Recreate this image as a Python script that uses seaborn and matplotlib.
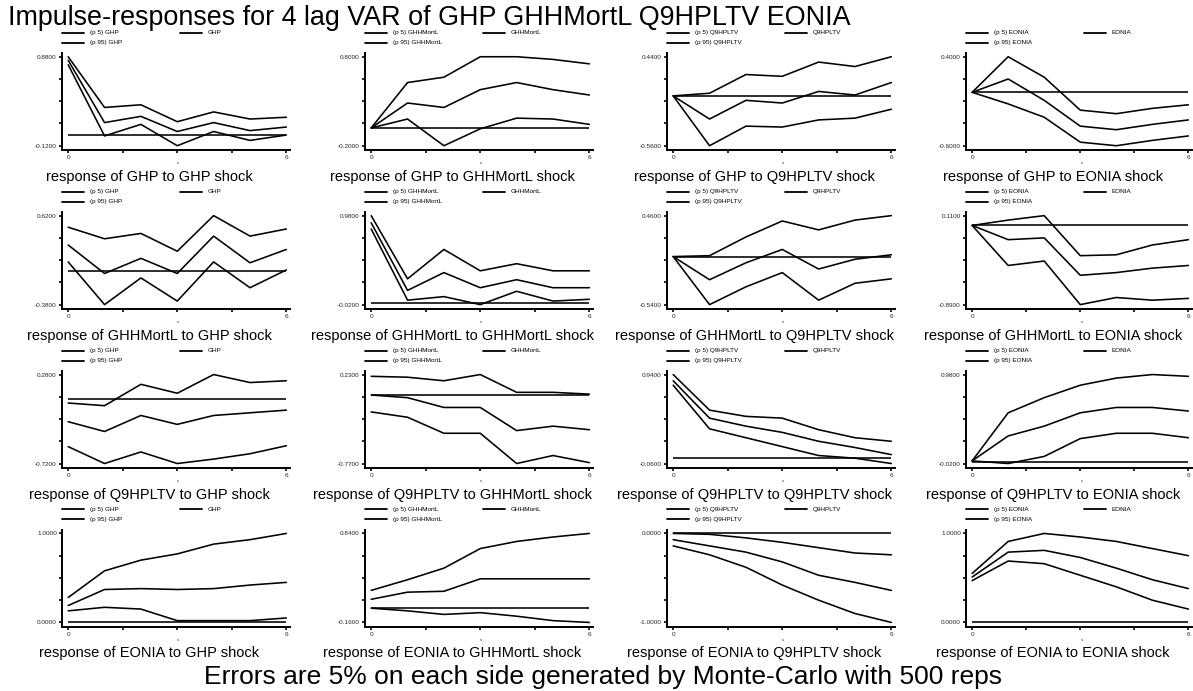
import numpy as np
import pandas as pd
import matplotlib
matplotlib.use("Agg")
import matplotlib.pyplot as plt
from matplotlib.lines import Line2D
import seaborn as sns

# ---------------- data ----------------
variables = ["GHP", "GHHMortL", "Q9HPLTV", "EONIA"]
steps = [0, 1, 2, 3, 4, 5, 6]
xtick_pos = [0, 1.5, 3, 4.5, 6]
xtick_labels = ["0", "", "", "", "6"]

# response of GHP
ghp_to_ghp_p95 = [0.88, 0.31, 0.34, 0.15, 0.26, 0.18, 0.20]
ghp_to_ghp_irf = [0.84, 0.14, 0.21, 0.04, 0.14, 0.05, 0.09]
ghp_to_ghp_p5 = [0.79, -0.01, 0.12, -0.12, 0.04, -0.06, 0.00]
ghp_to_ghhm_p95 = [0.00, 0.51, 0.57, 0.80, 0.80, 0.77, 0.72]
ghp_to_ghhm_irf = [0.00, 0.28, 0.23, 0.43, 0.51, 0.43, 0.37]
ghp_to_ghhm_p5 = [0.00, 0.10, -0.20, -0.01, 0.11, 0.10, 0.04]
ghp_to_q9_p95 = [0.00, 0.03, 0.24, 0.22, 0.38, 0.33, 0.44]
ghp_to_q9_irf = [0.00, -0.26, -0.05, -0.08, 0.05, 0.01, 0.15]
ghp_to_q9_p5 = [0.00, -0.56, -0.34, -0.35, -0.27, -0.25, -0.15]
ghp_to_eonia_p95 = [0.00, 0.40, 0.17, -0.20, -0.24, -0.18, -0.14]
ghp_to_eonia_irf = [0.00, 0.15, -0.09, -0.38, -0.42, -0.36, -0.31]
ghp_to_eonia_p5 = [0.00, -0.13, -0.28, -0.56, -0.60, -0.54, -0.49]

# response of GHHMortL
ghhm_to_ghp_p95 = [0.49, 0.36, 0.42, 0.22, 0.62, 0.39, 0.47]
ghhm_to_ghp_irf = [0.29, -0.03, 0.14, -0.03, 0.39, 0.09, 0.24]
ghhm_to_ghp_p5 = [0.10, -0.38, -0.08, -0.34, 0.10, -0.19, 0.01]
ghhm_to_ghhm_p95 = [0.98, 0.27, 0.60, 0.36, 0.44, 0.36, 0.36]
ghhm_to_ghhm_irf = [0.90, 0.14, 0.34, 0.17, 0.26, 0.17, 0.17]
ghhm_to_ghhm_p5 = [0.83, 0.03, 0.07, -0.02, 0.13, 0.02, 0.04]
ghhm_to_q9_p95 = [0.00, 0.01, 0.22, 0.40, 0.30, 0.41, 0.46]
ghhm_to_q9_irf = [0.00, -0.26, -0.07, 0.08, -0.14, -0.03, 0.02]
ghhm_to_q9_p5 = [0.00, -0.54, -0.34, -0.18, -0.49, -0.30, -0.25]
ghhm_to_eonia_p95 = [0.00, 0.06, 0.11, -0.34, -0.33, -0.22, -0.16]
ghhm_to_eonia_irf = [0.00, -0.16, -0.14, -0.56, -0.53, -0.48, -0.45]
ghhm_to_eonia_p5 = [0.00, -0.45, -0.40, -0.89, -0.81, -0.84, -0.82]

# response of Q9HPLTV
q9_to_ghp_p95 = [-0.04, -0.07, 0.17, 0.07, 0.28, 0.19, 0.21]
q9_to_ghp_irf = [-0.25, -0.36, -0.18, -0.28, -0.18, -0.15, -0.12]
q9_to_ghp_p5 = [-0.53, -0.72, -0.59, -0.72, -0.67, -0.61, -0.52]
q9_to_ghhm_p95 = [0.21, 0.20, 0.16, 0.23, 0.03, 0.03, 0.01]
q9_to_ghhm_irf = [0.00, -0.03, -0.14, -0.14, -0.40, -0.35, -0.39]
q9_to_ghhm_p5 = [-0.19, -0.25, -0.43, -0.43, -0.77, -0.68, -0.76]
q9_to_q9_p95 = [0.94, 0.54, 0.47, 0.45, 0.32, 0.23, 0.19]
q9_to_q9_irf = [0.87, 0.45, 0.36, 0.29, 0.19, 0.12, 0.04]
q9_to_q9_p5 = [0.82, 0.33, 0.23, 0.13, 0.03, 0.00, -0.06]
q9_to_eonia_p95 = [0.01, 0.55, 0.72, 0.86, 0.94, 0.98, 0.96]
q9_to_eonia_irf = [0.01, 0.29, 0.40, 0.55, 0.61, 0.61, 0.57]
q9_to_eonia_p5 = [0.01, -0.02, 0.06, 0.26, 0.32, 0.32, 0.27]

# response of EONIA
eonia_to_ghp_p95 = [0.28, 0.58, 0.70, 0.77, 0.88, 0.93, 1.00]
eonia_to_ghp_irf = [0.19, 0.37, 0.38, 0.37, 0.38, 0.42, 0.45]
eonia_to_ghp_p5 = [0.13, 0.17, 0.15, 0.02, 0.02, 0.02, 0.05]
eonia_to_ghhm_p95 = [0.20, 0.32, 0.45, 0.67, 0.75, 0.80, 0.84]
eonia_to_ghhm_irf = [0.10, 0.18, 0.19, 0.33, 0.33, 0.33, 0.33]
eonia_to_ghhm_p5 = [0.00, -0.03, -0.07, -0.05, -0.09, -0.14, -0.16]
eonia_to_q9_p95 = [0.00, -0.01, -0.05, -0.10, -0.16, -0.22, -0.24]
eonia_to_q9_irf = [-0.07, -0.14, -0.21, -0.32, -0.47, -0.55, -0.64]
eonia_to_q9_p5 = [-0.14, -0.24, -0.38, -0.58, -0.75, -0.90, -1.00]
eonia_to_eonia_p95 = [0.55, 0.91, 1.00, 0.96, 0.91, 0.83, 0.75]
eonia_to_eonia_irf = [0.51, 0.79, 0.81, 0.73, 0.61, 0.48, 0.38]
eonia_to_eonia_p5 = [0.47, 0.69, 0.66, 0.53, 0.40, 0.25, 0.15]

panels = [
    [(ghp_to_ghp_p5, ghp_to_ghp_irf, ghp_to_ghp_p95),
     (ghp_to_ghhm_p5, ghp_to_ghhm_irf, ghp_to_ghhm_p95),
     (ghp_to_q9_p5, ghp_to_q9_irf, ghp_to_q9_p95),
     (ghp_to_eonia_p5, ghp_to_eonia_irf, ghp_to_eonia_p95)],
    [(ghhm_to_ghp_p5, ghhm_to_ghp_irf, ghhm_to_ghp_p95),
     (ghhm_to_ghhm_p5, ghhm_to_ghhm_irf, ghhm_to_ghhm_p95),
     (ghhm_to_q9_p5, ghhm_to_q9_irf, ghhm_to_q9_p95),
     (ghhm_to_eonia_p5, ghhm_to_eonia_irf, ghhm_to_eonia_p95)],
    [(q9_to_ghp_p5, q9_to_ghp_irf, q9_to_ghp_p95),
     (q9_to_ghhm_p5, q9_to_ghhm_irf, q9_to_ghhm_p95),
     (q9_to_q9_p5, q9_to_q9_irf, q9_to_q9_p95),
     (q9_to_eonia_p5, q9_to_eonia_irf, q9_to_eonia_p95)],
    [(eonia_to_ghp_p5, eonia_to_ghp_irf, eonia_to_ghp_p95),
     (eonia_to_ghhm_p5, eonia_to_ghhm_irf, eonia_to_ghhm_p95),
     (eonia_to_q9_p5, eonia_to_q9_irf, eonia_to_q9_p95),
     (eonia_to_eonia_p5, eonia_to_eonia_irf, eonia_to_eonia_p95)],
]

title = "Impulse-responses for 4 lag VAR of GHP GHHMortL Q9HPLTV EONIA"
note = "Errors are 5% on each side generated by Monte-Carlo with 500 reps"

# ---------------- style ----------------
sns.set_theme(style="white")
plt.rcParams["font.family"] = ["Liberation Sans", "DejaVu Sans"]

W, H = 1193, 691
fig = plt.figure(figsize=(W / 100, H / 100), dpi=100)
fig.patch.set_facecolor("white")


def fx(px):
    return px / W


def fy(py):
    return 1 - py / H


col_left = [62, 365, 667, 966]
row_toptick = [56.7, 215.6, 374.5, 533.4]
tick_span = 89.0
ax_w = 228.0
xmin, xmax = -0.17, 6.1
LW = 1.15

for r in range(4):
    for c in range(4):
        p5, irf, p95 = panels[r][c]
        resp, imp = variables[r], variables[c]
        allv = list(p5) + list(irf) + list(p95) + [0.0]
        lo, hi = min(allv), max(allv)
        rng = hi - lo
        top_px = row_toptick[r]
        ax_top = top_px - 3.7
        ax_bot = top_px + tick_span + 4.3
        L = col_left[c]
        aw = ax_w if c < 3 else 226.0
        ax = fig.add_axes([fx(L), fy(ax_bot), fx(aw), (ax_bot - ax_top) / H])
        ax.set_facecolor("white")
        df = pd.DataFrame({"step": steps, "p5": p5, "irf": irf, "p95": p95})
        for col in ["p5", "irf", "p95"]:
            sns.lineplot(data=df, x="step", y=col, ax=ax, color="black",
                         linewidth=LW, legend=False)
        ax.hlines(0, steps[0], steps[-1], color="black", linewidth=LW)
        ax.set_xlim(xmin, xmax)
        ax.set_ylim(lo - 0.048 * rng, hi + 0.042 * rng)
        yt = np.linspace(lo, hi, 5)
        ax.set_yticks(yt)
        ax.set_yticklabels([f"{lo:.4f}", "", "", "", f"{hi:.4f}"])
        ax.set_xticks(xtick_pos)
        ax.set_xticklabels(xtick_labels)
        ax.set_xlabel("")
        ax.set_ylabel("")
        for s in ["top", "right"]:
            ax.spines[s].set_visible(False)
        for s in ["left", "bottom"]:
            ax.spines[s].set_color("black")
            ax.spines[s].set_linewidth(1.4)
        ax.tick_params(axis="both", which="both", direction="out", length=2.2,
                       width=1.2, color="black", labelsize=4.6, pad=1.5,
                       left=True, bottom=True)
        ax.grid(False)

        # legend (Stata style: two columns, three keys)
        y1 = top_px - 24
        y2 = top_px - 14
        keys = [(L, y1, f"(p 5) {imp}"), (L + 118, y1, imp), (L, y2, f"(p 95) {imp}")]
        for kx, ky, lab in keys:
            fig.add_artist(Line2D([fx(kx), fx(kx + 22)], [fy(ky), fy(ky)],
                                  transform=fig.transFigure, color="black", linewidth=1.3))
            fig.text(fx(kx + 28), fy(ky), lab, fontsize=4.6, ha="left", va="center",
                     color="black")

        # step label and caption
        cx = L + 6.2 + 110
        fig.text(fx(cx), fy(ax_bot + 13), "s", fontsize=3, ha="center", va="center")
        fig.text(fx(cx - 29), fy(top_px + 120), f"response of {resp} to {imp} shock",
                 fontsize=10.5, ha="center", va="center", color="black")

fig.text(fx(8), fy(18), title, fontsize=19.4, ha="left", va="center", color="black")
fig.text(fx(603), fy(677), note, fontsize=19, ha="center", va="center", color="black")

fig.savefig("out.png", dpi=100, facecolor="white")
